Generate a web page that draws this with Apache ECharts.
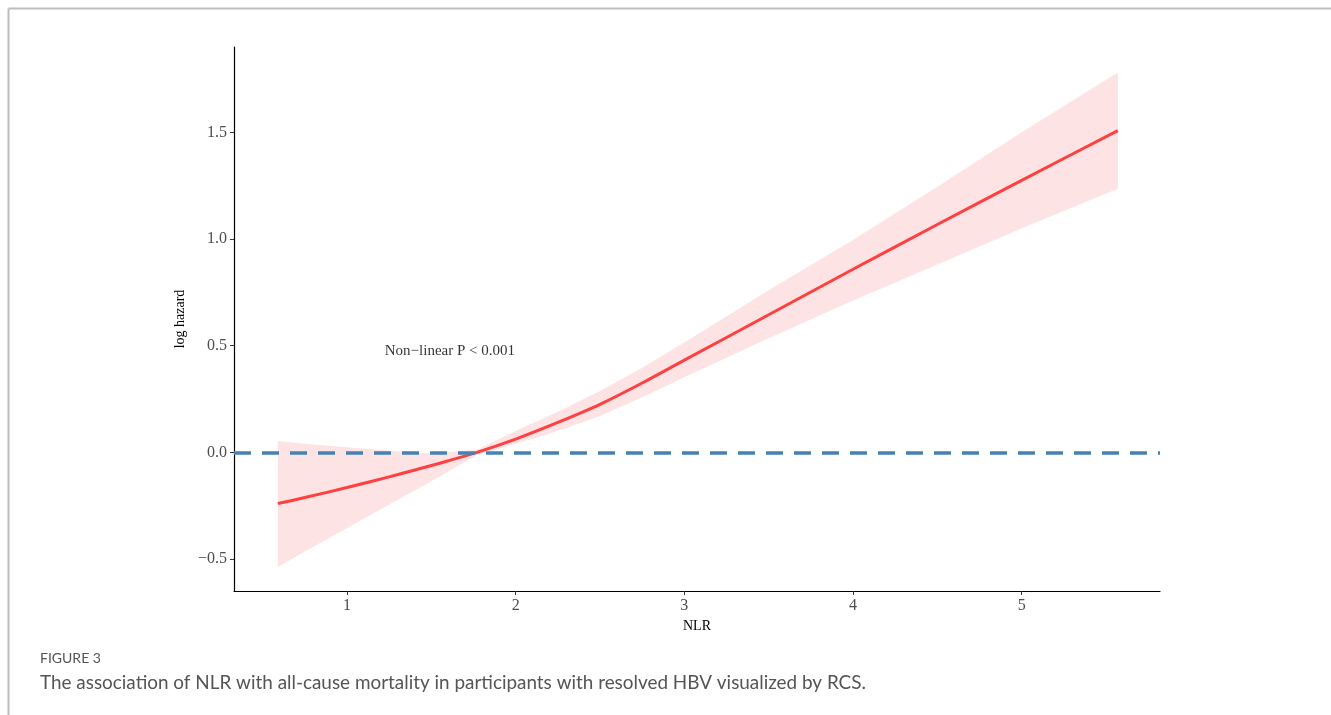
<!DOCTYPE html>
<html>
<head>
<meta charset="utf-8">
<style>
  html, body { margin: 0; padding: 0; background: #fff; }
  #main { width: 1331px; height: 715px; }
</style>
<script src="https://cdn.jsdelivr.net/npm/echarts@6/dist/echarts.min.js"></script>
</head>
<body>
<div id="main"></div>
<script>
const nlr = [0.59, 0.75, 1.0, 1.25, 1.5, 1.77, 2.0, 2.25, 2.5, 2.75, 3.0, 3.5, 4.0, 4.5, 5.0, 5.57];
// log hazard estimate and 95% band
const logHazard = [-0.240, -0.212, -0.165, -0.115, -0.062, 0.000, 0.062, 0.140, 0.225, 0.325, 0.432, 0.645, 0.858, 1.068, 1.275, 1.508];
const upper = [0.053, 0.040, 0.024, 0.007, -0.006, 0.012, 0.100, 0.190, 0.288, 0.397, 0.515, 0.760, 0.995, 1.245, 1.500, 1.780];
const lower = [-0.537, -0.465, -0.355, -0.245, -0.135, -0.012, 0.040, 0.100, 0.170, 0.258, 0.352, 0.535, 0.712, 0.880, 1.050, 1.235];

const xTicks = [1, 2, 3, 4, 5];
const yTicks = [-0.5, 0.0, 0.5, 1.0, 1.5];
const refValue = 0;
const annotation = { x: 1.61, y: 0.473, text: "Non\u2212linear P < 0.001" };

const serif = "'Liberation Serif', 'Times New Roman', serif";

const chart = echarts.init(document.getElementById("main"));

const bandPts = nlr.map((x, i) => [x, lower[i], upper[i]]);
const linePts = nlr.map((x, i) => [x, logHazard[i]]);

// draw the whole ribbon as one polygon, on the first item only
function renderBand(params, api) {
  if (params.dataIndex !== 0) return;
  const top = bandPts.map(p => api.coord([p[0], p[2]]));
  const bottom = bandPts.map(p => api.coord([p[0], p[1]])).reverse();
  return {
    type: "polygon",
    shape: { points: top.concat(bottom) },
    style: { fill: "#fde3e4" }
  };
}

const option = {
  animation: false,
  backgroundColor: "#fff",
  grid: { left: 234, right: 171, top: 47, bottom: 124 },
  xAxis: {
    type: "value",
    min: 0.33,
    max: 5.82,
    name: "NLR",
    nameLocation: "middle",
    nameGap: 24,
    nameTextStyle: { fontFamily: serif, fontSize: 14, color: "#000" },
    splitLine: { show: false },
    axisLine: { onZero: false, lineStyle: { color: "#000", width: 1.2 } },
    axisTick: { customValues: xTicks, length: 4, lineStyle: { color: "#333" } },
    axisLabel: { customValues: xTicks, margin: 7, fontFamily: serif, fontSize: 16, color: "#4d4d4d" }
  },
  yAxis: {
    type: "value",
    min: -0.65,
    max: 1.9,
    name: "log hazard",
    nameLocation: "middle",
    nameGap: 42,
    nameRotate: 90,
    nameTextStyle: { fontFamily: serif, fontSize: 14, color: "#000" },
    splitLine: { show: false },
    axisLine: { show: true, onZero: false, lineStyle: { color: "#000", width: 1.2 } },
    axisTick: { show: true, customValues: yTicks, length: 4, lineStyle: { color: "#333" } },
    axisLabel: {
      customValues: yTicks,
      margin: 7,
      fontFamily: serif,
      fontSize: 16,
      color: "#4d4d4d",
      formatter: v => (v < 0 ? "\u2212" + Math.abs(v).toFixed(1) : v.toFixed(1))
    }
  },
  series: [
    {
      name: "band",
      type: "custom",
      data: bandPts,
      renderItem: renderBand,
      clip: true,
      silent: true,
      z: 1
    },
    {
      name: "ref",
      type: "line",
      data: [],
      z: 2,
      markLine: {
        silent: true,
        symbol: "none",
        label: { show: false },
        lineStyle: { color: "#4682b4", width: 3.5, type: [17, 11] },
        data: [{ yAxis: refValue }]
      }
    },
    {
      name: "log hazard",
      type: "line",
      data: linePts,
      symbol: "none",
      smooth: 0.3,
      lineStyle: { color: "#ff4040", width: 3 },
      z: 3
    },
    {
      name: "note",
      type: "scatter",
      data: [[annotation.x, annotation.y]],
      symbolSize: 1,
      itemStyle: { color: "rgba(0,0,0,0)" },
      silent: true,
      z: 4,
      label: {
        show: true,
        position: "inside",
        formatter: annotation.text,
        fontFamily: serif,
        fontSize: 15,
        color: "#000"
      }
    }
  ],
  graphic: [
    { type: "line", shape: { x1: 8.5, y1: 8.5, x2: 1331, y2: 8.5 }, style: { stroke: "#bdbdbd", lineWidth: 2 } },
    { type: "line", shape: { x1: 8.5, y1: 8.5, x2: 8.5, y2: 715 }, style: { stroke: "#bdbdbd", lineWidth: 2 } },
    { type: "text", left: 40, top: 651, style: { text: "FIGURE 3", font: "14px Lato, 'Open Sans', sans-serif", fill: "#555" } },
    { type: "text", left: 40, top: 673, style: { text: "The association of NLR with all-cause mortality in participants with resolved HBV visualized by RCS.", font: "18.9px Lato, 'Open Sans', sans-serif", fill: "#555" } }
  ]
};

chart.setOption(option);
</script>
</body>
</html>
